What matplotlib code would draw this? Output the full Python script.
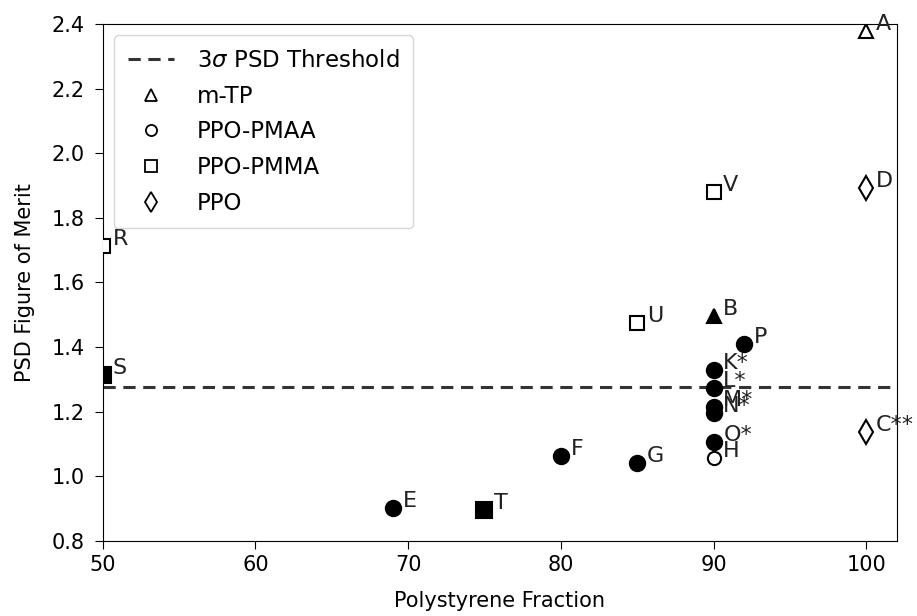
import matplotlib
matplotlib.use("Agg")
import matplotlib.pyplot as plt
from matplotlib.lines import Line2D

# sample data
labels = ["A", "B", "C**", "D", "E", "F", "G", "H", "K*", "L*", "M*", "N*",
          "O*", "P", "R", "S", "T", "U", "V"]
ps_fraction = [100, 90, 100, 100, 69, 80, 85, 90, 90, 90, 90, 90,
               90, 92, 50, 50, 75, 85, 90]
psd_fom = [2.378, 1.496, 1.137, 1.892, 0.902, 1.063, 1.041, 1.056, 1.329, 1.273,
           1.214, 1.196, 1.106, 1.409, 1.713, 1.313, 0.895, 1.474, 1.880]
material = ["m-TP", "m-TP", "PPO", "PPO", "PPO-PMAA", "PPO-PMAA", "PPO-PMAA",
            "PPO-PMAA", "PPO-PMAA", "PPO-PMAA", "PPO-PMAA", "PPO-PMAA",
            "PPO-PMAA", "PPO-PMAA", "PPO-PMMA", "PPO-PMMA", "PPO-PMMA",
            "PPO-PMMA", "PPO-PMMA"]
filled = [False, True, False, False, True, True, True, False, True, True,
          True, True, True, True, False, True, True, False, False]

threshold = 1.276

markers = {"m-TP": "^", "PPO-PMAA": "o", "PPO-PMMA": "s", "PPO": "d"}
size_filled = {"m-TP": 10, "PPO-PMAA": 11, "PPO-PMMA": 11, "PPO": 13}
size_open = {"m-TP": 10.5, "PPO-PMAA": 9.5, "PPO-PMMA": 9.5, "PPO": 12.5}

plt.rcParams["font.size"] = 15

fig = plt.figure(figsize=(9.17, 6.16), dpi=100)
ax = fig.add_axes([0.112, 0.122, 0.866, 0.839])

ax.axhline(threshold, color="#333333", ls="--", lw=2.2, dashes=(4, 2.5), zorder=1)

for xi, yi, lab, mat, f in zip(ps_fraction, psd_fom, labels, material, filled):
    ms = size_filled[mat] if f else size_open[mat]
    ax.plot(xi, yi, marker=markers[mat], ms=ms, ls="none",
            mfc="black" if f else "white", mec="black", mew=1.5, zorder=3)
    ax.annotate(lab, (xi, yi), xytext=(7, 5), textcoords="offset points",
                ha="left", va="center", color="#222222", fontsize=16)

ax.set_xlim(50, 102)
ax.set_ylim(0.8, 2.4)
ax.set_xticks([50, 60, 70, 80, 90, 100])
ax.set_yticks([0.8, 1.0, 1.2, 1.4, 1.6, 1.8, 2.0, 2.2, 2.4])
ax.tick_params(axis="both", length=6)
ax.tick_params(axis="x", pad=4.5)
ax.tick_params(axis="y", pad=7)
ax.set_xlabel("Polystyrene Fraction", labelpad=11)
ax.set_ylabel("PSD Figure of Merit", labelpad=12)

handles = [Line2D([], [], color="#333333", ls="--", lw=2.2, dashes=(4, 2.5),
                  label="3$\\sigma$ PSD Threshold")]
for mat in ["m-TP", "PPO-PMAA", "PPO-PMMA", "PPO"]:
    handles.append(Line2D([], [], marker=markers[mat], ls="none",
                          ms=10 if mat == "PPO" else 8,
                          mfc="white", mec="black", mew=1.3, label=mat))
ax.legend(handles=handles, loc="upper left", fontsize=16.5,
          handletextpad=1.0, labelspacing=0.55, borderpad=0.6,
          borderaxespad=0.5)

fig.savefig("out.png", dpi=100)
